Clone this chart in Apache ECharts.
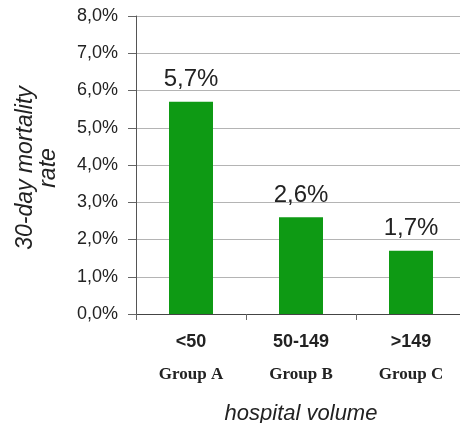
<!DOCTYPE html>
<html>
<head>
<meta charset="utf-8">
<script src="https://cdn.jsdelivr.net/npm/echarts@6/dist/echarts.min.js"></script>
<style>
  html, body { margin: 0; padding: 0; background: #ffffff; }
  #chart { width: 460px; height: 423px; }
</style>
</head>
<body>
<div id="chart"></div>
<script>
// Hospital volume categories and their group names
const volumeBands = ['<50', '50-149', '>149'];
const groupNames = ['Group A', 'Group B', 'Group C'];
// 30-day mortality rate, in percent
const mortalityRate = [5.7, 2.6, 1.7];
// Value axis range, in percent
const yMin = 0, yMax = 8, yStep = 1;

const fmtPct = v => v.toFixed(1).replace('.', ',') + '%';
const categories = volumeBands.map((b, i) => b + '\n' + groupNames[i]);

const chart = echarts.init(document.getElementById('chart'), null, { renderer: 'canvas' });
chart.setOption({
  animation: false,
  backgroundColor: '#ffffff',
  grid: { left: 136, top: 16, bottom: 109, width: 330, containLabel: false, outerBoundsMode: 'none' },
  xAxis: {
    type: 'category',
    data: categories,
    name: 'hospital volume',
    nameLocation: 'middle',
    nameGap: 89,
    nameTextStyle: { fontFamily: 'Liberation Sans', fontStyle: 'italic', fontSize: 22, color: '#222' },
    axisLine: { lineStyle: { color: '#444', width: 1 } },
    axisTick: { show: true, length: 6, lineStyle: { color: '#666' } },
    axisLabel: {
      margin: 13,
      interval: 0,
      formatter: v => {
        const [band, group] = v.split('\n');
        return '{a|' + band + '}\n{b|' + group + '}';
      },
      rich: {
        a: { fontFamily: 'Liberation Sans', fontWeight: 'bold', fontSize: 18, color: '#222', height: 30, lineHeight: 30 },
        b: { fontFamily: 'Liberation Serif', fontWeight: 'bold', fontSize: 17, color: '#222', height: 36, lineHeight: 36 }
      }
    }
  },
  yAxis: {
    type: 'value',
    min: yMin,
    max: yMax,
    interval: yStep,
    name: '30-day mortality\nrate',
    nameLocation: 'middle',
    nameRotate: 90,
    nameGap: 76,
    nameTextStyle: { fontFamily: 'Liberation Sans', fontStyle: 'italic', fontSize: 23, color: '#222', lineHeight: 23, align: 'center', padding: [0, 6, 0, 0] },
    axisLine: { show: true, lineStyle: { color: '#555', width: 1 } },
    axisTick: { show: true, length: 8, lineStyle: { color: '#666' } },
    splitLine: { show: true, lineStyle: { color: '#b4b4b4', width: 1 } },
    axisLabel: {
      margin: 18,
      fontFamily: 'Liberation Sans',
      fontSize: 18,
      color: '#222',
      formatter: v => fmtPct(v)
    }
  },
  series: [{
    type: 'bar',
    data: mortalityRate,
    barWidth: '40%',
    itemStyle: { color: '#0e9a14' },
    label: {
      show: true,
      position: 'top',
      distance: 10,
      fontFamily: 'Liberation Sans',
      fontSize: 24,
      color: '#222',
      formatter: p => fmtPct(p.value)
    }
  }]
});
</script>
</body>
</html>
